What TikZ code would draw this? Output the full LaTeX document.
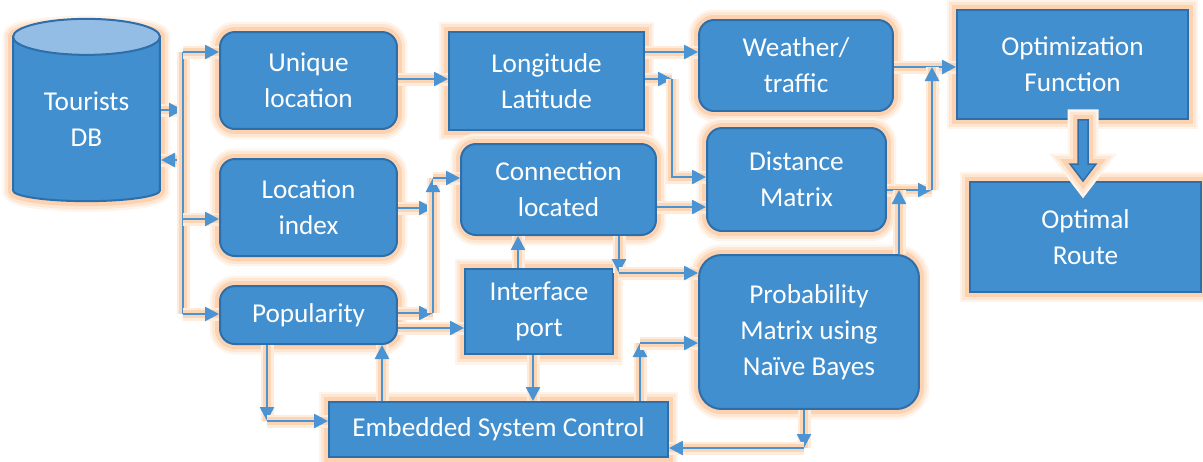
\documentclass[tikz,border=0pt]{standalone}
\usepackage{fontspec}
\setmainfont{Carlito}
\usetikzlibrary{shapes.geometric,arrows.meta,calc}

\definecolor{boxblue}{HTML}{418FCE}
\definecolor{edgeblue}{HTML}{2E6EAA}
\definecolor{wireblue}{HTML}{4A94D4}
\definecolor{glowor}{HTML}{FBC79C}
\definecolor{lidblue}{HTML}{94BDE6}

\begin{document}
\begin{tikzpicture}[x=0.02cm, y=-0.02cm,
    font=\fontsize{15.5}{20.5}\selectfont]

    % Styles for the blocks and the wires
    \tikzset{glow/.style={preaction={draw=glowor!20, line width=0.42cm},
                          preaction={draw=glowor!45, line width=0.32cm},
                          preaction={draw=glowor!80, line width=0.2cm}},
             block/.style={rectangle, glow, draw=edgeblue, line width=0.04cm,
                           fill=boxblue, text=white, align=center, inner sep=0pt},
             rblock/.style={block, rounded corners=0.3cm},
             wire/.style={draw=wireblue, line width=0.05cm,
                          preaction={draw=glowor!35, line width=0.26cm, arrows=-},
                          preaction={draw=glowor!75, line width=0.17cm, arrows=-}},
             link/.style={wire, -{Triangle[length=0.28cm, width=0.28cm]}},
             blockarrow/.style={glow, fill=boxblue, draw=edgeblue, line width=0.03cm}}

    \useasboundingbox (0,0) rectangle (1203,461);

    % Draw the blocks
    \node[block, shape=cylinder, shape border rotate=90, aspect=0.25,
          minimum width=2.94cm, minimum height=3.5cm] (db) at (86.5,119.5) {Tourists\\DB};
    \draw[draw=edgeblue, line width=0.04cm, fill=lidblue]
        ($(db.before top)!.5!(db.after top)$) ellipse [x radius=1.47cm, y radius=0.36cm];

    \node[rblock, minimum width=3.54cm, minimum height=1.94cm] (uniq)    at (308.5,80.5)  {Unique\\location};
    \node[rblock, minimum width=3.54cm, minimum height=1.94cm] (locidx)  at (308.5,207.5) {Location\\index};
    \node[rblock, minimum width=3.54cm, minimum height=1.16cm] (pop)     at (308.5,315)   {Popularity};
    \node[block,  minimum width=3.9cm,  minimum height=1.96cm] (lonlat)  at (546.5,81)    {Longitude\\Latitude};
    \node[rblock, minimum width=3.88cm, minimum height=1.82cm] (weather) at (796,65.5)    {Weather/\\traffic};
    \node[rblock, minimum width=3.58cm, minimum height=2.06cm] (dist)    at (796.5,179.5) {Distance\\Matrix};
    \node[rblock, minimum width=3.9cm,  minimum height=1.82cm] (conn)    at (558.5,189.5) {Connection\\located};
    \node[block,  minimum width=2.96cm, minimum height=1.7cm]  (iface)   at (539,311.5)   {Interface\\port};
    \node[rblock, rounded corners=0.45cm,
          minimum width=4.4cm,  minimum height=3.08cm]         (prob)    at (809,332)     {Probability\\Matrix using\\Naïve Bayes};
    \node[block,  minimum width=6.78cm, minimum height=1.1cm]  (emb)     at (498.5,429.5) {Embedded System Control};
    \node[block,  minimum width=4.62cm, minimum height=2.18cm] (optf)    at (1072.5,64.5) {Optimization\\Function};
    \node[block,  minimum width=4.62cm, minimum height=2.2cm]  (route)   at (1085.5,237)  {Optimal\\Route};

    % Points where the wires meet
    \coordinate (busT)  at (183,52);
    \coordinate (busB)  at (183,314);
    \coordinate (colA)  at (433,178);
    \coordinate (colB)  at (672,79);
    \coordinate (colC)  at (932,67);
    \coordinate (ppm)   at (899,190);
    \coordinate (dnc)   at (619,273);
    \coordinate (upe)   at (640,343);
    \coordinate (dnp)   at (804,448);
    \coordinate (dnpop) at (267,421);

    % Connect the blocks
    \draw[link] (db.east |- 0,110) -- (busT |- 0,110);
    \draw[link] (busT |- 0,160) -- (db.east |- 0,160);
    \draw[wire] (busT) -- (busB);
    \draw[link] (busT) -- (uniq.west |- busT);
    \draw[link] (busT |- 0,219) -- (locidx.west |- 0,219);
    \draw[link] (busB) -- (pop.west |- busB);

    \draw[link] (uniq.east |- 0,79) -- (lonlat.west |- 0,79);
    \draw[link] (lonlat.east |- 0,52) -- (weather.west |- 0,52);
    \draw[link] (lonlat.east |- colB) -- (colB);
    \draw[link] (colB) |- (dist.west |- 0,177);

    \draw[link] (locidx.east |- 0,208) -- (colA |- 0,208);
    \draw[link] (pop.east |- 0,313) -- (colA |- 0,313);
    \draw[link] (colA |- 0,313) -- (colA);
    \draw[link] (colA) -- (conn.west |- colA);
    \draw[link] (pop.east |- 0,328) -- (iface.west |- 0,328);
    \draw[link] (conn.east |- 0,207) -- (dist.west |- 0,207);

    \draw[link] (weather.east |- colC) -- (optf.west |- colC);
    \draw[link] (dist.east |- ppm) -- (colC |- ppm);
    \draw[link] (colC |- ppm) -- (colC);
    \draw[link] (prob.north -| ppm) -- (ppm);

    \draw[link] (conn.south -| dnc) -- (dnc);
    \draw[link] (dnc) -- (prob.west |- dnc);
    \draw[link] (iface.north -| 518,0) -- (conn.south -| 518,0);
    \draw[link] (iface.south -| 533,0) -- (emb.north -| 533,0);
    \draw[link] (emb.north -| upe) -- (upe);
    \draw[link] (upe) -- (prob.west |- upe);
    \draw[link] (prob.south -| dnp) -- (dnp);
    \draw[link] (dnp) -- (emb.east |- dnp);
    \draw[link] (pop.south -| dnpop) -- (dnpop);
    \draw[link] (dnpop) -- (emb.west |- dnpop);
    \draw[link] (emb.north -| 382,0) -- (pop.south -| 382,0);

    % Block arrow down to the route
    \draw[blockarrow] (optf.south -| 1078,0) -- (1078,164) -- (1070,164)
        -- (route.north -| 1083,0) -- (1096,164) -- (1088,164)
        -- (optf.south -| 1088,0) -- cycle;
\end{tikzpicture}
\end{document}
